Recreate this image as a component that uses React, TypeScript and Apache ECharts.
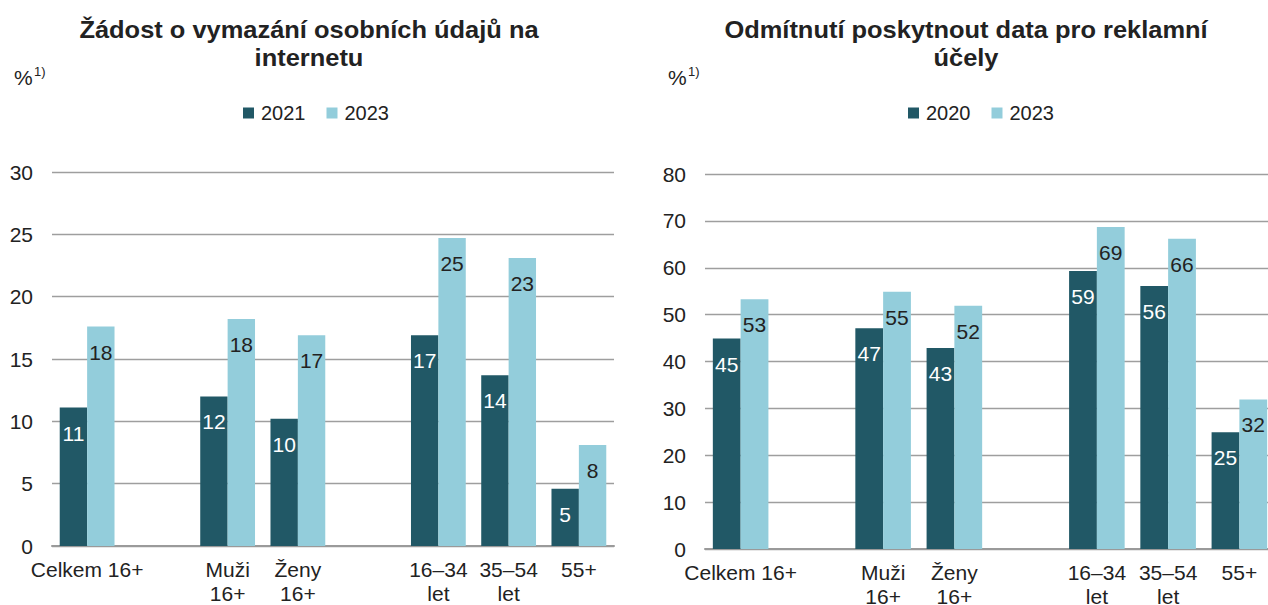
import React, { useEffect, useRef } from "react";
import * as echarts from "echarts";

const categories = ["Celkem 16+", "", "Muži\n16+", "Ženy\n16+", "", "16–34\nlet", "35–54\nlet", "55+"];
const leftSeriesNames = ["2021", "2023"];
const left2021 = [11.1, "-", 12.0, 10.2, "-", 16.9, 13.7, 4.6];
const left2023 = [17.6, "-", 18.2, 16.9, "-", 24.7, 23.1, 8.1];
const rightSeriesNames = ["2020", "2023"];
const right2020 = [44.9, "-", 47.1, 42.9, "-", 59.3, 56.1, 24.9];
const right2023 = [53.3, "-", 54.9, 51.9, "-", 68.7, 66.2, 31.9];
const leftTitle = "Žádost o vymazání osobních údajů na\ninternetu";
const rightTitle = "Odmítnutí poskytnout data pro reklamní\núčely";
const leftAxisTicks = { min: 0, max: 30, interval: 5 };
const rightAxisTicks = { min: 0, max: 80, interval: 10 };

const DARK = "#215866";
const LIGHT = "#93cddb";
const TEXT = "#222222";
const FONT = "'Liberation Sans', Arial, sans-serif";

export default function App() {
  const ref = useRef<HTMLDivElement>(null);
  useEffect(() => {
    if (!ref.current) return;
    const chart = echarts.init(ref.current, undefined, { renderer: "svg" });
    const fmt = (p: any) => String(Math.round(Number(p.value)));
    const barSeries = (name: string, data: any[], idx: number, dark: boolean) => ({
      type: "bar",
      name,
      data,
      xAxisIndex: idx,
      yAxisIndex: idx,
      barWidth: "39%",
      barGap: "0%",
      itemStyle: { color: dark ? DARK : LIGHT },
      label: {
        show: true,
        position: "insideTop",
        distance: 15,
        formatter: fmt,
        color: dark ? "#ffffff" : TEXT,
        fontSize: 21,
        fontFamily: FONT,
      },
    });
    const xAxis = (idx: number) => ({
      type: "category",
      gridIndex: idx,
      data: categories,
      axisTick: { show: false },
      axisLine: { lineStyle: { color: "#9a9a9a", width: 2 } },
      axisLabel: { color: TEXT, fontSize: 21, fontFamily: FONT, lineHeight: 24, margin: 11, interval: 0 },
    });
    const yAxis = (idx: number, t: any) => ({
      type: "value",
      gridIndex: idx,
      min: t.min,
      max: t.max,
      interval: t.interval,
      axisLine: { show: false },
      axisTick: { show: false },
      splitLine: { lineStyle: { color: "#9e9e9e", width: 1.4 } },
      axisLabel: { color: TEXT, fontSize: 21, fontFamily: FONT, margin: 19 },
    });
    const legend = (names: string[], left: number) => ({
      data: names,
      left,
      top: 98,
      icon: "rect",
      itemWidth: 11,
      itemHeight: 11,
      itemGap: 21,
      textStyle: { color: TEXT, fontSize: 20, fontFamily: FONT, padding: [0, 0, 0, 2] },
      selectedMode: false,
    });
    const title = (text: string, x: number) => ({
      type: "text",
      x,
      y: 16,
      scaleX: 1.06,
      originX: 0,
      style: {
        text,
        x: 0,
        textAlign: "center",
        fill: TEXT,
        font: `bold 24px ${FONT}`,
        lineHeight: 28,
      },
    });
    const pct = (x: number) => [
      { type: "text", x, y: 67, style: { text: "%", fill: TEXT, font: `21px ${FONT}` } },
      { type: "text", x: x + 20, y: 65, style: { text: "1)", fill: TEXT, font: `13px ${FONT}` } },
    ];
    chart.setOption({
      animation: false,
      grid: [
        { left: 52, top: 172, width: 562, height: 374, outerBoundsMode: "none", containLabel: false },
        { left: 705, top: 174, width: 570, height: 375, outerBoundsMode: "none", containLabel: false },
      ],
      xAxis: [xAxis(0), xAxis(1)],
      yAxis: [yAxis(0, leftAxisTicks), yAxis(1, rightAxisTicks)],
      legend: [legend(leftSeriesNames, 238), legend(rightSeriesNames, 903)],
      series: [
        barSeries(leftSeriesNames[0], left2021, 0, true),
        barSeries(leftSeriesNames[1], left2023, 0, false),
        barSeries(rightSeriesNames[0], right2020, 1, true),
        barSeries(rightSeriesNames[1], right2023, 1, false),
      ],
      graphic: [title(leftTitle, 309), title(rightTitle, 966), ...pct(14), ...pct(668)],
    });
    return () => chart.dispose();
  }, []);
  return (
    <div style={{ position: "absolute", left: 0, top: 0, width: 1268, height: 605, background: "#fff", overflow: "hidden" }}>
      <div ref={ref} style={{ width: 1300, height: 605 }} />
    </div>
  );
}
